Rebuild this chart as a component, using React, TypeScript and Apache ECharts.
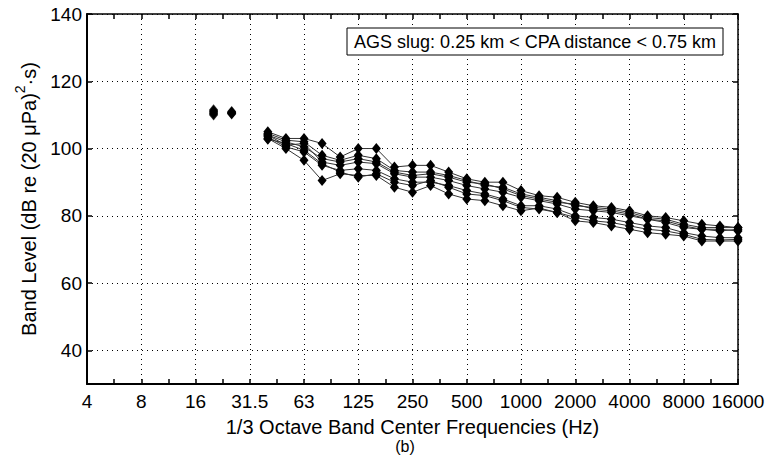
import React, { useEffect, useRef } from "react";
import * as echarts from "echarts";

// All 1/3-octave band centre frequencies on the axis (Hz)
const allBands = ["4","5","6.3","8","10","12.5","16","20","25","31.5","40","50","63","80","100","125","160","200","250","315","400","500","630","800","1000","1250","1600","2000","2500","3150","4000","5000","6300","8000","10000","12500","16000"];

// Isolated low-frequency measurements (not joined by lines)
const lowBand20 = [111.5, 111, 110.5, 110, 110.3, 111.2, 110.8];
const lowBand25 = [111, 110.8, 110.5, 110.5, 110.3, 110.7, 110.6];

// Bands joined by lines
const lineBands = ["40","50","63","80","100","125","160","200","250","315","400","500","630","800","1000","1250","1600","2000","2500","3150","4000","5000","6300","8000","10000","12500","16000"];

// Band levels (dB re (20 µPa)^2·s), one array per pass
const pass1 = [105, 103, 103, 101.5, 97.5, 100, 100, 94.5, 95, 95, 93, 91, 90, 90, 87.5, 86, 85.5, 84, 83, 82.5, 81.5, 80, 79.5, 78.5, 77.5, 77, 76.5];
const pass2 = [104.5, 102.5, 102, 98, 96.5, 98, 97, 93.5, 93, 93, 92, 90.5, 89, 88.5, 86.5, 85.5, 84.5, 83, 82.5, 82, 81, 79.5, 79, 77.5, 76.5, 76.5, 76.5];
const pass3 = [104, 101, 101.5, 96, 95, 96, 95.5, 92.5, 91.5, 91.5, 90.5, 89, 88, 87, 85.5, 84.5, 83.5, 82, 81.5, 81, 80, 79, 78, 76.5, 76, 75.5, 76];
const pass4 = [103.5, 100.5, 99, 95, 93.5, 94, 93.5, 91, 90, 90, 89, 87.5, 86.5, 85, 83, 83, 82, 80, 79.5, 79, 78, 77, 76.5, 75, 74, 73.5, 73.5];
const pass5 = [103, 100, 96.5, 90.5, 92.5, 92, 92, 88.5, 87, 89, 86.5, 85, 84.5, 83, 81.5, 82.3, 81, 78.5, 78, 77, 76, 75, 74.5, 74, 72.5, 72.5, 72.5];
const pass6 = [104, 102, 100.5, 97, 96, 97, 96, 93, 92, 92.5, 91.5, 90, 89.5, 88, 86, 85, 84, 83.5, 82, 81.5, 80.5, 79, 78.5, 77, 76, 76, 75.5];
const pass7 = [102.8, 101.5, 99.5, 95.5, 93, 91.5, 92.5, 90, 89, 90.5, 88.5, 86.5, 86, 84.5, 82.5, 82, 81, 79.5, 78.5, 78, 77, 76, 75.5, 74.5, 73, 72.8, 73];

const seriesValues = [pass1, pass2, pass3, pass4, pass5, pass6, pass7];

const yTickValues = [40, 60, 80, 100, 120, 140];

export default function App() {
  const ref = useRef<HTMLDivElement>(null);
  useEffect(() => {
    if (!ref.current) return;
    const chart = echarts.init(ref.current, undefined, { renderer: "svg" });
    const font = "'Liberation Sans', Arial, Helvetica, sans-serif";
    const markerStyle = {
      symbol: "diamond",
      symbolSize: [9, 11],
      itemStyle: { color: "#000" },
    };
    const lineSeries = seriesValues.map((vals, i) => ({
      type: "line",
      name: "pass" + (i + 1),
      data: lineBands.map((b, j) => [allBands.indexOf(b), vals[j]]),
      showAllSymbol: true,
      lineStyle: { color: "#333", width: 1 },
      ...markerStyle,
    }));
    const lowSeries = {
      type: "scatter",
      name: "low",
      data: [
        ...lowBand20.map((v) => [allBands.indexOf("20"), v]),
        ...lowBand25.map((v) => [allBands.indexOf("25"), v]),
      ],
      ...markerStyle,
    };
    const xCommon = {
      type: "value",
      min: 0,
      max: allBands.length - 1,
      interval: 3,
    };
    const yCommon = {
      type: "value",
      min: 30,
      max: 140,
      splitNumber: 5,
    };
    chart.setOption({
      animation: false,
      backgroundColor: "#fff",
      grid: { left: 87, right: 40, top: 14, bottom: 83, containLabel: false },
      xAxis: [
        {
          ...xCommon,
          position: "bottom",
          name: "1/3 Octave Band Center Frequencies (Hz)",
          nameLocation: "middle",
          nameGap: 33,
          nameTextStyle: { color: "#000", fontSize: 20, fontFamily: font },
          axisLine: { show: true, onZero: false, lineStyle: { color: "#000", width: 2 } },
          axisTick: { show: true, inside: true, length: 5, lineStyle: { color: "#000", width: 1.5 } },
          minorTick: { show: true, splitNumber: 2, length: 5, lineStyle: { color: "#000", width: 1.5 } },
          axisLabel: {
            color: "#000",
            fontSize: 19,
            fontFamily: font,
            margin: 8,
            formatter: (v: number) => allBands[Math.round(v)] ?? "",
          },
          splitLine: { show: true, lineStyle: { color: "#000", width: 1, type: [1, 4] } },
        },
        {
          ...xCommon,
          position: "top",
          axisLine: { show: true, onZero: false, lineStyle: { color: "#000", width: 1.5 } },
          axisTick: { show: true, inside: true, length: 5, lineStyle: { color: "#000", width: 1.5 } },
          minorTick: { show: true, splitNumber: 2, length: 5, lineStyle: { color: "#000", width: 1.5 } },
          axisLabel: { show: false },
          splitLine: { show: false },
        },
      ],
      yAxis: [
        {
          ...yCommon,
          position: "left",
          name: "{n|Band Level (dB re (20 μPa)}{sup|2}{n|·s)}",
          nameLocation: "middle",
          nameGap: 45,
          nameTextStyle: {
            color: "#000",
            fontSize: 20,
            fontFamily: font,
            rich: {
              n: { fontSize: 20, fontFamily: font, color: "#000", verticalAlign: "bottom", lineHeight: 26 },
              sup: { fontSize: 14, fontFamily: font, color: "#000", verticalAlign: "top", lineHeight: 26 },
            },
          },
          axisLine: { show: true, onZero: false, lineStyle: { color: "#000", width: 2 } },
          axisTick: { show: true, inside: true, length: 5, lineStyle: { color: "#000", width: 1.5 } },
          axisLabel: {
            color: "#000",
            fontSize: 19,
            fontFamily: font,
            margin: 5,
            showMinLabel: false,
            formatter: (v: number) => (yTickValues.includes(v) ? String(v) : ""),
          },
          splitLine: { show: true, lineStyle: { color: "#000", width: 1, type: [1, 4] } },
        },
        {
          ...yCommon,
          position: "right",
          axisLine: { show: true, onZero: false, lineStyle: { color: "#000", width: 1.5 } },
          axisTick: { show: true, inside: true, length: 5, lineStyle: { color: "#000", width: 1.5 } },
          axisLabel: { show: false },
          splitLine: { show: false },
        },
      ],
      graphic: [
        {
          type: "rect",
          shape: { x: 347, y: 28, width: 376, height: 27 },
          style: { fill: "#fff", stroke: "#000", lineWidth: 1 },
          z: 100,
        },
        {
          type: "text",
          x: 535,
          y: 41.5,
          style: {
            text: "AGS slug: 0.25 km < CPA distance < 0.75 km",
            fill: "#000",
            fontSize: 18,
            fontFamily: font,
            align: "center",
            verticalAlign: "middle",
          },
          z: 101,
        },
        {
          type: "text",
          x: 405,
          y: 446,
          style: {
            text: "(b)",
            fill: "#000",
            fontSize: 16,
            fontFamily: font,
            align: "center",
            verticalAlign: "middle",
          },
        },
      ],
      series: [lowSeries, ...lineSeries],
    });
    return () => chart.dispose();
  }, []);
  return (
    <div
      ref={ref}
      style={{ position: "fixed", left: 0, top: 0, width: 778, height: 467, background: "#fff" }}
    />
  );
}
